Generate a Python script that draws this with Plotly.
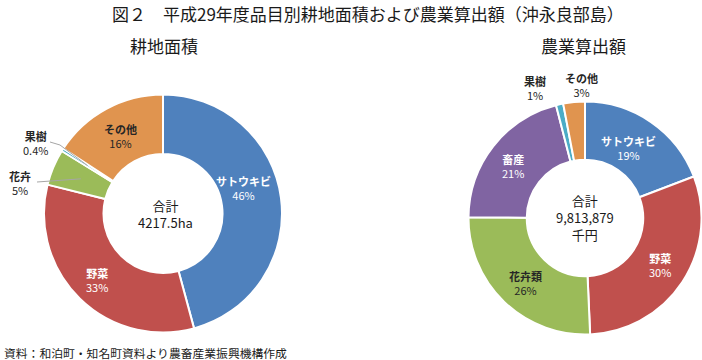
import math
import plotly.graph_objects as go

# ---- data ----
area_labels = ["サトウキビ", "野菜", "花卉", "果樹", "その他"]
area_values = [45.8, 33.1, 4.9, 0.4, 15.8]
area_pct_text = ["46%", "33%", "5%", "0.4%", "16%"]
area_colors = ["#4F81BD", "#C0504D", "#9BBB59", "#4BACC6", "#E0944F"]
area_text_colors = ["white", "white", "#262626", "#262626", "#262626"]

prod_labels = ["サトウキビ", "野菜", "花卉類", "畜産", "果樹", "その他"]
prod_values = [19.2, 30.1, 25.8, 20.9, 1.0, 3.0]
prod_pct_text = ["19%", "30%", "26%", "21%", "1%", "3%"]
prod_colors = ["#4F81BD", "#C0504D", "#9BBB59", "#8064A2", "#4BACC6", "#E0944F"]
prod_text_colors = ["white", "white", "#262626", "white", "#262626", "#262626"]

title_text = "図２　平成29年度品目別耕地面積および農業算出額（沖永良部島）"
sub_left = "耕地面積"
sub_right = "農業算出額"
center_left = "合計<br>4217.5ha"
center_right = "合計<br>9,813,879<br>千円"
source_text = "資料：和泊町・知名町資料より農畜産業振興機構作成"

# ---- layout constants (pixels) ----
W, H = 702, 360
FONT = "Noto Sans CJK JP, Noto Sans, sans-serif"
L_CX, L_CY, L_R = 163, 213.5, 119
R_CX, R_CY, R_R = 585, 218, 116.5
# label centres for each slice (pixels)
area_label_pos = [(243, 188), (97, 280), (20, 183), (35, 143), (120, 136)]
prod_label_pos = [(628, 148), (660, 265), (525, 283), (513, 166), (535, 88), (581, 85)]


def dom(cx, cy, r):
    return dict(x=[(cx - r) / W, (cx + r) / W], y=[1 - (cy + r) / H, 1 - (cy - r) / H])


def px(x):
    return x / W


def py(y):
    return 1 - y / H


fig = go.Figure()
for labels, values, colors, (cx, cy, r) in [
    (area_labels, area_values, area_colors, (L_CX, L_CY, L_R)),
    (prod_labels, prod_values, prod_colors, (R_CX, R_CY, R_R)),
]:
    fig.add_trace(go.Pie(
        labels=labels, values=values, textinfo="none",
        marker=dict(colors=colors, line=dict(color="white", width=2)),
        hole=0.5, sort=False, direction="clockwise", rotation=0,
        domain=dom(cx, cy, r), showlegend=False, hoverinfo="label+value",
    ))

ann = []
ann.append(dict(text=title_text, x=px(368), y=py(14), font=dict(size=17, color="#1a1a1a")))
ann.append(dict(text=sub_left, x=px(164), y=py(45), font=dict(size=17, color="#1a1a1a")))
ann.append(dict(text=sub_right, x=px(583), y=py(45), font=dict(size=17, color="#1a1a1a")))
ann.append(dict(text=center_left, x=px(L_CX + 2), y=py(L_CY), font=dict(size=13, color="#1a1a1a")))
ann.append(dict(text=center_right, x=px(R_CX), y=py(R_CY), font=dict(size=13, color="#1a1a1a")))
ann.append(dict(text=source_text, x=px(2), y=py(352), xanchor="left", font=dict(size=11.8, color="#1a1a1a")))

for labels, pcts, tcolors, positions in [
    (area_labels, area_pct_text, area_text_colors, area_label_pos),
    (prod_labels, prod_pct_text, prod_text_colors, prod_label_pos),
]:
    for lab, pct, col, (x, y) in zip(labels, pcts, tcolors, positions):
        ann.append(dict(text="<b>%s</b><br>%s" % (lab, pct), x=px(x), y=py(y),
                        font=dict(size=11, color=col)))

for a in ann:
    a.update(xref="paper", yref="paper", showarrow=False, align="center", yanchor="middle")
    a.setdefault("xanchor", "center")
    a["font"]["family"] = FONT


def mid_point(values, idx, cx, cy, r, frac=0.75):
    tot = sum(values)
    start = sum(values[:idx])
    ang = 2 * math.pi * (start + values[idx] / 2) / tot
    return cx + r * frac * math.sin(ang), cy - r * frac * math.cos(ang)


shapes = []
ex, ey = mid_point(area_values, 3, L_CX, L_CY, L_R)
shapes.append(dict(type="path",
                   path="M %f %f L %f %f L %f %f" % (px(50), py(142), px(60), py(145), px(ex), py(ey)),
                   xref="paper", yref="paper", line=dict(color="#A6A6A6", width=1)))
ex, ey = mid_point(area_values, 2, L_CX, L_CY, L_R)
shapes.append(dict(type="path", path="M %f %f L %f %f" % (px(37), py(182), px(ex), py(ey)),
                   xref="paper", yref="paper", line=dict(color="#A6A6A6", width=1)))

fig.update_layout(
    width=W, height=H, margin=dict(l=0, r=0, t=0, b=0),
    paper_bgcolor="white", plot_bgcolor="white",
    annotations=ann, shapes=shapes,
    font=dict(family=FONT),
)
fig.write_html("out.html", config={"displayModeBar": False},
               post_script="document.body.style.margin='0';document.body.style.overflow='hidden';")
